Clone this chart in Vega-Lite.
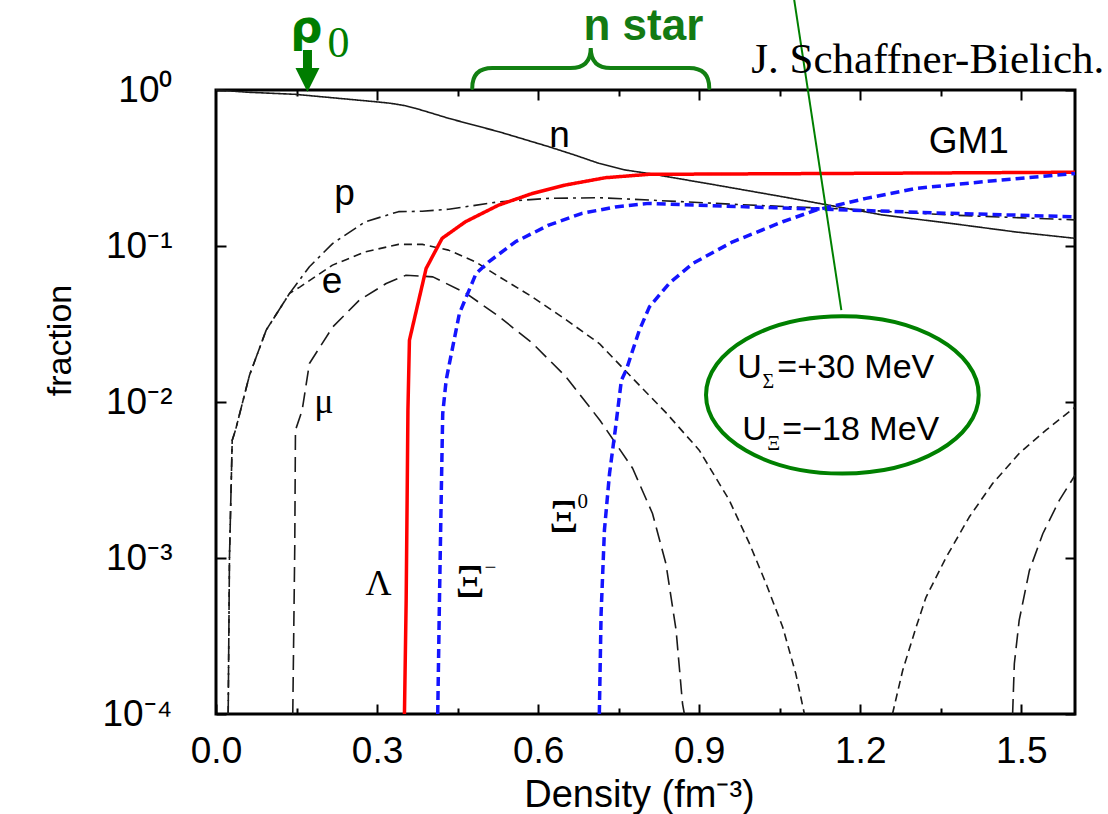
{
  "$schema": "https://vega.github.io/schema/vega-lite/v6.json",
  "width": 859,
  "height": 624,
  "autosize": {"type": "none"},
  "padding": {"left": 216, "top": 90, "right": 33, "bottom": 100},
  "background": "white",
  "config": {
    "view": {"stroke": "black", "strokeWidth": 3},
    "axis": {
      "domain": false, "grid": false, "tickColor": "black", "tickWidth": 2,
      "labelColor": "black", "labelFont": "Liberation Sans", "labelFontSize": 37,
      "titleFont": "Liberation Sans", "titleFontSize": 37, "titleFontWeight": "normal", "titleColor": "black"
    },
    "text": {"color": "black"}
  },
  "resolve": {"axis": {"x": "independent", "y": "independent"}},
  "datasets": {
    "curves": [
      {"c": "n", "x": 0, "y": 1.0}, {"c": "n", "x": 0.0605, "y": 0.967}, {"c": "n", "x": 0.148, "y": 0.938},
      {"c": "n", "x": 0.297, "y": 0.841}, {"c": "n", "x": 0.325, "y": 0.822}, {"c": "n", "x": 0.353, "y": 0.793},
      {"c": "n", "x": 0.3715, "y": 0.763}, {"c": "n", "x": 0.4026, "y": 0.709}, {"c": "n", "x": 0.4335, "y": 0.658},
      {"c": "n", "x": 0.48, "y": 0.596}, {"c": "n", "x": 0.527, "y": 0.54}, {"c": "n", "x": 0.62, "y": 0.433},
      {"c": "n", "x": 0.667, "y": 0.384}, {"c": "n", "x": 0.713, "y": 0.339}, {"c": "n", "x": 0.7626, "y": 0.307},
      {"c": "n", "x": 0.807, "y": 0.2913}, {"c": "n", "x": 0.931, "y": 0.246},
      {"c": "n", "x": 1.055, "y": 0.207}, {"c": "n", "x": 1.242, "y": 0.158}, {"c": "n", "x": 1.366, "y": 0.14},
      {"c": "n", "x": 1.49, "y": 0.123}, {"c": "n", "x": 1.6, "y": 0.112},

      {"c": "p", "x": 0.0227, "y": 0.0001}, {"c": "p", "x": 0.0251, "y": 0.00101}, {"c": "p", "x": 0.0302, "y": 0.00569},
      {"c": "p", "x": 0.0363, "y": 0.0066}, {"c": "p", "x": 0.0624, "y": 0.01485}, {"c": "p", "x": 0.0935, "y": 0.0289},
      {"c": "p", "x": 0.137, "y": 0.0497}, {"c": "p", "x": 0.174, "y": 0.0736}, {"c": "p", "x": 0.2175, "y": 0.104},
      {"c": "p", "x": 0.278, "y": 0.143}, {"c": "p", "x": 0.34, "y": 0.166}, {"c": "p", "x": 0.384, "y": 0.167},
      {"c": "p", "x": 0.4335, "y": 0.172}, {"c": "p", "x": 0.527, "y": 0.192}, {"c": "p", "x": 0.62, "y": 0.202},
      {"c": "p", "x": 0.713, "y": 0.204}, {"c": "p", "x": 0.807, "y": 0.197}, {"c": "p", "x": 0.9935, "y": 0.183},
      {"c": "p", "x": 1.18, "y": 0.172}, {"c": "p", "x": 1.366, "y": 0.158}, {"c": "p", "x": 1.6, "y": 0.147},

      {"c": "e", "x": 0.0227, "y": 0.0001}, {"c": "e", "x": 0.0251, "y": 0.00101}, {"c": "e", "x": 0.0302, "y": 0.00569},
      {"c": "e", "x": 0.0363, "y": 0.0066}, {"c": "e", "x": 0.0624, "y": 0.01485}, {"c": "e", "x": 0.0935, "y": 0.0289},
      {"c": "e", "x": 0.137, "y": 0.0497}, {"c": "e", "x": 0.156, "y": 0.0545}, {"c": "e", "x": 0.217, "y": 0.0754},
      {"c": "e", "x": 0.2784, "y": 0.0918}, {"c": "e", "x": 0.34, "y": 0.1024}, {"c": "e", "x": 0.3845, "y": 0.1024},
      {"c": "e", "x": 0.433, "y": 0.0941}, {"c": "e", "x": 0.483, "y": 0.0792}, {"c": "e", "x": 0.528, "y": 0.0634},
      {"c": "e", "x": 0.589, "y": 0.0472}, {"c": "e", "x": 0.653, "y": 0.0335}, {"c": "e", "x": 0.714, "y": 0.0237},
      {"c": "e", "x": 0.776, "y": 0.0142}, {"c": "e", "x": 0.839, "y": 0.00848}, {"c": "e", "x": 0.9, "y": 0.00491},
      {"c": "e", "x": 0.956, "y": 0.00235}, {"c": "e", "x": 0.9935, "y": 0.00124}, {"c": "e", "x": 1.0246, "y": 0.000685},
      {"c": "e", "x": 1.0555, "y": 0.000361}, {"c": "e", "x": 1.08, "y": 0.000181}, {"c": "e", "x": 1.096, "y": 0.0001},

      {"c": "mu", "x": 0.143, "y": 0.0001}, {"c": "mu", "x": 0.1467, "y": 0.00118}, {"c": "mu", "x": 0.148, "y": 0.0066},
      {"c": "mu", "x": 0.1605, "y": 0.00886}, {"c": "mu", "x": 0.174, "y": 0.01766}, {"c": "mu", "x": 0.2175, "y": 0.0303},
      {"c": "mu", "x": 0.267, "y": 0.045}, {"c": "mu", "x": 0.317, "y": 0.0575}, {"c": "mu", "x": 0.354, "y": 0.065},
      {"c": "mu", "x": 0.404, "y": 0.0634}, {"c": "mu", "x": 0.466, "y": 0.0497}, {"c": "mu", "x": 0.528, "y": 0.0351},
      {"c": "mu", "x": 0.59, "y": 0.0237}, {"c": "mu", "x": 0.652, "y": 0.01449}, {"c": "mu", "x": 0.715, "y": 0.00764},
      {"c": "mu", "x": 0.776, "y": 0.00376}, {"c": "mu", "x": 0.813, "y": 0.00193}, {"c": "mu", "x": 0.838, "y": 0.00092},
      {"c": "mu", "x": 0.857, "y": 0.000344}, {"c": "mu", "x": 0.869, "y": 0.000116}, {"c": "mu", "x": 0.8724, "y": 0.0001},

      {"c": "e_hi", "x": 1.26, "y": 0.0001}, {"c": "e_hi", "x": 1.279, "y": 0.00019}, {"c": "e_hi", "x": 1.304, "y": 0.00036},
      {"c": "e_hi", "x": 1.3225, "y": 0.00056}, {"c": "e_hi", "x": 1.36, "y": 0.00101}, {"c": "e_hi", "x": 1.403, "y": 0.00183},
      {"c": "e_hi", "x": 1.4465, "y": 0.003}, {"c": "e_hi", "x": 1.496, "y": 0.00468}, {"c": "e_hi", "x": 1.546, "y": 0.0066},
      {"c": "e_hi", "x": 1.6, "y": 0.00926},

      {"c": "mu_hi", "x": 1.4838, "y": 0.0001}, {"c": "mu_hi", "x": 1.487, "y": 0.00021}, {"c": "mu_hi", "x": 1.496, "y": 0.000398},
      {"c": "mu_hi", "x": 1.515, "y": 0.00083}, {"c": "mu_hi", "x": 1.54, "y": 0.00143}, {"c": "mu_hi", "x": 1.571, "y": 0.00235},
      {"c": "mu_hi", "x": 1.6, "y": 0.00339},

      {"c": "Lambda", "x": 0.351, "y": 0.0001}, {"c": "Lambda", "x": 0.3542, "y": 0.000535}, {"c": "Lambda", "x": 0.356, "y": 0.00235},
      {"c": "Lambda", "x": 0.3575, "y": 0.00886}, {"c": "Lambda", "x": 0.3603, "y": 0.0249}, {"c": "Lambda", "x": 0.3914, "y": 0.0718},
      {"c": "Lambda", "x": 0.4212, "y": 0.112}, {"c": "Lambda", "x": 0.4646, "y": 0.143}, {"c": "Lambda", "x": 0.5266, "y": 0.183},
      {"c": "Lambda", "x": 0.589, "y": 0.217}, {"c": "Lambda", "x": 0.651, "y": 0.246}, {"c": "Lambda", "x": 0.7253, "y": 0.274},
      {"c": "Lambda", "x": 0.806, "y": 0.288}, {"c": "Lambda", "x": 1.18, "y": 0.292}, {"c": "Lambda", "x": 1.6, "y": 0.297},

      {"c": "Xi-", "x": 0.413, "y": 0.0001}, {"c": "Xi-", "x": 0.4162, "y": 0.000535}, {"c": "Xi-", "x": 0.4194, "y": 0.00235},
      {"c": "Xi-", "x": 0.4223, "y": 0.00844}, {"c": "Xi-", "x": 0.4287, "y": 0.0138}, {"c": "Xi-", "x": 0.4348, "y": 0.01766},
      {"c": "Xi-", "x": 0.4534, "y": 0.037}, {"c": "Xi-", "x": 0.4845, "y": 0.0667}, {"c": "Xi-", "x": 0.508, "y": 0.0792},
      {"c": "Xi-", "x": 0.5577, "y": 0.1064}, {"c": "Xi-", "x": 0.6197, "y": 0.136}, {"c": "Xi-", "x": 0.682, "y": 0.162},
      {"c": "Xi-", "x": 0.744, "y": 0.178}, {"c": "Xi-", "x": 0.806, "y": 0.1876}, {"c": "Xi-", "x": 0.9935, "y": 0.178},
      {"c": "Xi-", "x": 1.18, "y": 0.17}, {"c": "Xi-", "x": 1.366, "y": 0.162}, {"c": "Xi-", "x": 1.6, "y": 0.154},

      {"c": "Xi0", "x": 0.714, "y": 0.0001}, {"c": "Xi0", "x": 0.7173, "y": 0.00044}, {"c": "Xi0", "x": 0.7235, "y": 0.00151},
      {"c": "Xi0", "x": 0.733, "y": 0.00348}, {"c": "Xi0", "x": 0.7436, "y": 0.0066}, {"c": "Xi0", "x": 0.7551, "y": 0.0138},
      {"c": "Xi0", "x": 0.764, "y": 0.016}, {"c": "Xi0", "x": 0.7886, "y": 0.0289}, {"c": "Xi0", "x": 0.8073, "y": 0.0407},
      {"c": "Xi0", "x": 0.8445, "y": 0.0578}, {"c": "Xi0", "x": 0.888, "y": 0.0773}, {"c": "Xi0", "x": 0.9624, "y": 0.1064},
      {"c": "Xi0", "x": 1.0555, "y": 0.143}, {"c": "Xi0", "x": 1.1177, "y": 0.17}, {"c": "Xi0", "x": 1.2108, "y": 0.202},
      {"c": "Xi0", "x": 1.304, "y": 0.234}, {"c": "Xi0", "x": 1.428, "y": 0.258}, {"c": "Xi0", "x": 1.6, "y": 0.292}
    ],
    "notes": [
      {"role": "label", "t": "n", "x": 0.6397, "y": 0.4309},
      {"role": "label", "t": "GM1", "x": 1.4022, "y": 0.3944},
      {"role": "label", "t": "p", "x": 0.2393, "y": 0.1829},
      {"role": "label", "t": "e", "x": 0.216, "y": 0.04985},
      {"role": "greek", "t": "μ", "x": 0.2011, "y": 0.008476},
      {"role": "greek", "t": "Λ", "x": 0.3026, "y": 0.0005764},
      {"role": "xi", "t": "Ξ", "x": 0.473, "y": 0.0005596},
      {"role": "xi", "t": "Ξ", "x": 0.648, "y": 0.001462},
      {"role": "sup", "t": "−", "x": 0.5, "y": 0.000786},
      {"role": "sup", "t": "0", "x": 0.6732, "y": 0.002084},
      {"role": "pot", "t": "U", "x": 0.9711, "y": 0.01421},
      {"role": "pot", "t": "=+30 MeV", "x": 1.0456, "y": 0.01421},
      {"role": "pot", "t": "U", "x": 0.9804, "y": 0.005689},
      {"role": "pot", "t": "=−18 MeV", "x": 1.0549, "y": 0.005689},
      {"role": "sub", "t": "Σ", "x": 1.0177, "y": 0.01226},
      {"role": "sub", "t": "Ξ", "x": 1.027, "y": 0.004907},
      {"role": "nstar", "t": "n star", "x": 0.7961, "y": 2.093},
      {"role": "rho", "t": "ρ", "x": 0.1685, "y": 2.032},
      {"role": "rho0", "t": "0", "x": 0.2281, "y": 1.628},
      {"role": "credit", "t": "J. Schaffner-Bielich.", "x": 0.9972, "y": 1.285}
    ],
    "shapes": [
      {"role": "arrow", "x": 0.1704, "y": 1.324},
      {"role": "brace", "x": 0.698, "y": 1.384},
      {"role": "ellipse", "x": 1.1667, "y": 0.0111}
    ],
    "pointer": [
      {"x": 1.077, "y": 3.778, "x2": 1.1648, "y2": 0.0388}
    ]
  },
  "layer": [
    {
      "data": {"name": "curves"},
      "mark": {"type": "line", "strokeJoin": "round"},
      "encoding": {
        "x": {
          "field": "x", "type": "quantitative",
          "scale": {"domain": [0, 1.6], "nice": false, "zero": false},
          "axis": {
            "orient": "bottom", "values": [0, 0.3, 0.6, 0.9, 1.2, 1.5], "format": ".1f",
            "tickSize": -10, "labelPadding": 58, "labelBaseline": "alphabetic",
            "labelFlush": false, "labelOverlap": false,
            "title": "Density (fm⁻³)", "titleX": 423, "titleY": 92, "titleBaseline": "alphabetic", "titleFontSize": 38
          }
        },
        "y": {
          "field": "y", "type": "quantitative",
          "scale": {"type": "log", "domain": [0.0001, 1], "nice": false},
          "axis": {
            "orient": "left", "values": [1, 0.1, 0.01, 0.001, 0.0001],
            "labelExpr": "datum.value > 0.5 ? '10⁰' : datum.value > 0.05 ? '10⁻¹' : datum.value > 0.005 ? '10⁻²' : datum.value > 0.0005 ? '10⁻³' : '10⁻⁴'",
            "tickSize": -10, "labelPadding": 54, "labelFlush": false, "labelOverlap": false,
            "title": "fraction", "titleX": -146, "titleY": 250, "titleBaseline": "alphabetic", "titleFontSize": 34
          }
        },
        "detail": {"field": "c", "type": "nominal"},
        "color": {
          "field": "c", "type": "nominal", "legend": null,
          "scale": {
            "domain": ["n", "p", "e", "mu", "e_hi", "mu_hi", "Lambda", "Xi-", "Xi0"],
            "range": ["#1a1a1a", "#1a1a1a", "#1a1a1a", "#1a1a1a", "#1a1a1a", "#1a1a1a", "#ff0000", "#1414ff", "#1414ff"]
          }
        },
        "strokeDash": {
          "field": "c", "type": "nominal", "legend": null,
          "scale": {
            "domain": ["n", "p", "e", "mu", "e_hi", "mu_hi", "Lambda", "Xi-", "Xi0"],
            "range": [[1, 0], [14, 5, 3, 5], [8, 5], [15, 7], [8, 5], [15, 7], [1, 0], [9, 5], [9, 5]]
          }
        },
        "strokeWidth": {
          "field": "c", "type": "nominal", "legend": null,
          "scale": {
            "type": "ordinal",
            "domain": ["n", "p", "e", "mu", "e_hi", "mu_hi", "Lambda", "Xi-", "Xi0"],
            "range": [1.6, 1.6, 1.6, 1.6, 1.6, 1.6, 3.5, 3.5, 3.5]
          }
        }
      }
    },
    {
      "data": {"name": "shapes"},
      "transform": [{"filter": "datum.role == 'arrow'"}],
      "mark": {
        "type": "point", "filled": true, "color": "#007d00", "opacity": 1, "strokeWidth": 0, "size": 1764,
        "shape": "M -0.214 -1 L 0.214 -1 L 0.214 -0.143 L 0.571 -0.143 L 0 1 L -0.571 -0.143 L -0.214 -0.143 Z"
      },
      "encoding": {
        "x": {
          "field": "x", "type": "quantitative",
          "scale": {"domain": [0, 1.6], "nice": false, "zero": false},
          "axis": {
            "orient": "top", "values": [0.15, 0.3, 0.45, 0.6, 0.75, 0.9, 1.05, 1.2, 1.35, 1.5],
            "labels": false, "title": null,
            "tickSize": {"condition": {"test": "abs(datum.value / 0.3 - round(datum.value / 0.3)) < 0.01", "value": -10}, "value": -6}
          }
        },
        "y": {
          "field": "y", "type": "quantitative",
          "scale": {"type": "log", "domain": [0.0001, 1], "nice": false},
          "axis": {"orient": "right", "values": [1, 0.1, 0.01, 0.001, 0.0001], "labels": false, "title": null, "tickSize": -10}
        }
      }
    },
    {
      "data": {"name": "shapes"},
      "transform": [{"filter": "datum.role == 'brace'"}],
      "mark": {
        "type": "point", "filled": false, "stroke": "#128012", "strokeWidth": 4, "opacity": 1, "size": 56169,
        "strokeCap": "round",
        "shape": "M -1 0.169 Q -1 0 -0.83 0 L -0.17 0 Q 0 0 0 -0.169 Q 0 0 0.17 0 L 0.83 0 Q 1 0 1 0.169"
      },
      "encoding": {
        "x": {
          "field": "x", "type": "quantitative",
          "scale": {"domain": [0, 1.6], "nice": false, "zero": false},
          "axis": {"orient": "bottom", "values": [0.15, 0.45, 0.75, 1.05, 1.35], "labels": false, "title": null, "tickSize": -6}
        },
        "y": {"field": "y", "type": "quantitative", "scale": {"type": "log", "domain": [0.0001, 1], "nice": false}, "axis": null}
      }
    },
    {
      "data": {"name": "shapes"},
      "transform": [{"filter": "datum.role == 'ellipse'"}],
      "mark": {
        "type": "point", "filled": false, "stroke": "#008000", "strokeWidth": 4, "opacity": 1, "size": 74365,
        "shape": "M -1 0 A 1 0.577 0 1 1 1 0 A 1 0.577 0 1 1 -1 0 Z"
      },
      "encoding": {
        "x": {"field": "x", "type": "quantitative", "scale": {"domain": [0, 1.6], "nice": false, "zero": false}, "axis": null},
        "y": {"field": "y", "type": "quantitative", "scale": {"type": "log", "domain": [0.0001, 1], "nice": false}, "axis": null}
      }
    },
    {
      "data": {"name": "pointer"},
      "mark": {"type": "rule", "color": "#008000", "strokeWidth": 2},
      "encoding": {
        "x": {"field": "x", "type": "quantitative", "scale": {"domain": [0, 1.6], "nice": false, "zero": false}, "axis": null},
        "y": {"field": "y", "type": "quantitative", "scale": {"type": "log", "domain": [0.0001, 1], "nice": false}, "axis": null},
        "x2": {"field": "x2"},
        "y2": {"field": "y2"}
      }
    },
    {
      "data": {"name": "notes"},
      "transform": [{"filter": "datum.role == 'label'"}],
      "mark": {"type": "text", "font": "Liberation Sans", "fontSize": 37, "align": "center", "baseline": "alphabetic"},
      "encoding": {
        "x": {"field": "x", "type": "quantitative", "scale": {"domain": [0, 1.6], "nice": false, "zero": false}, "axis": null},
        "y": {"field": "y", "type": "quantitative", "scale": {"type": "log", "domain": [0.0001, 1], "nice": false}, "axis": null},
        "text": {"field": "t"}
      }
    },
    {
      "data": {"name": "notes"},
      "transform": [{"filter": "datum.role == 'greek'"}],
      "mark": {"type": "text", "font": "Liberation Serif", "fontSize": 36, "align": "center", "baseline": "alphabetic"},
      "encoding": {
        "x": {"field": "x", "type": "quantitative", "scale": {"domain": [0, 1.6], "nice": false, "zero": false}, "axis": null},
        "y": {"field": "y", "type": "quantitative", "scale": {"type": "log", "domain": [0.0001, 1], "nice": false}, "axis": null},
        "text": {"field": "t"}
      }
    },
    {
      "data": {"name": "notes"},
      "transform": [{"filter": "datum.role == 'xi'"}],
      "mark": {"type": "text", "font": "Liberation Serif", "fontSize": 46, "align": "center", "baseline": "alphabetic"},
      "encoding": {
        "x": {"field": "x", "type": "quantitative", "scale": {"domain": [0, 1.6], "nice": false, "zero": false}, "axis": null},
        "y": {"field": "y", "type": "quantitative", "scale": {"type": "log", "domain": [0.0001, 1], "nice": false}, "axis": null},
        "text": {"field": "t"}
      }
    },
    {
      "data": {"name": "notes"},
      "transform": [{"filter": "datum.role == 'sup'"}],
      "mark": {"type": "text", "font": "Liberation Serif", "fontSize": 21, "align": "left", "baseline": "alphabetic"},
      "encoding": {
        "x": {"field": "x", "type": "quantitative", "scale": {"domain": [0, 1.6], "nice": false, "zero": false}, "axis": null},
        "y": {"field": "y", "type": "quantitative", "scale": {"type": "log", "domain": [0.0001, 1], "nice": false}, "axis": null},
        "text": {"field": "t"}
      }
    },
    {
      "data": {"name": "notes"},
      "transform": [{"filter": "datum.role == 'pot'"}],
      "mark": {"type": "text", "font": "Liberation Sans", "fontSize": 34, "align": "left", "baseline": "alphabetic"},
      "encoding": {
        "x": {"field": "x", "type": "quantitative", "scale": {"domain": [0, 1.6], "nice": false, "zero": false}, "axis": null},
        "y": {"field": "y", "type": "quantitative", "scale": {"type": "log", "domain": [0.0001, 1], "nice": false}, "axis": null},
        "text": {"field": "t"}
      }
    },
    {
      "data": {"name": "notes"},
      "transform": [{"filter": "datum.role == 'sub'"}],
      "mark": {"type": "text", "font": "Liberation Serif", "fontSize": 20, "align": "left", "baseline": "alphabetic"},
      "encoding": {
        "x": {"field": "x", "type": "quantitative", "scale": {"domain": [0, 1.6], "nice": false, "zero": false}, "axis": null},
        "y": {"field": "y", "type": "quantitative", "scale": {"type": "log", "domain": [0.0001, 1], "nice": false}, "axis": null},
        "text": {"field": "t"}
      }
    },
    {
      "data": {"name": "notes"},
      "transform": [{"filter": "datum.role == 'nstar'"}],
      "mark": {"type": "text", "font": "Liberation Sans", "fontSize": 44, "fontWeight": "bold", "color": "#137a13", "align": "center", "baseline": "alphabetic"},
      "encoding": {
        "x": {"field": "x", "type": "quantitative", "scale": {"domain": [0, 1.6], "nice": false, "zero": false}, "axis": null},
        "y": {"field": "y", "type": "quantitative", "scale": {"type": "log", "domain": [0.0001, 1], "nice": false}, "axis": null},
        "text": {"field": "t"}
      }
    },
    {
      "data": {"name": "notes"},
      "transform": [{"filter": "datum.role == 'rho'"}],
      "mark": {"type": "text", "font": "DejaVu Sans", "fontSize": 45, "fontWeight": "bold", "color": "#007d00", "align": "center", "baseline": "alphabetic"},
      "encoding": {
        "x": {"field": "x", "type": "quantitative", "scale": {"domain": [0, 1.6], "nice": false, "zero": false}, "axis": null},
        "y": {"field": "y", "type": "quantitative", "scale": {"type": "log", "domain": [0.0001, 1], "nice": false}, "axis": null},
        "text": {"field": "t"}
      }
    },
    {
      "data": {"name": "notes"},
      "transform": [{"filter": "datum.role == 'rho0'"}],
      "mark": {"type": "text", "font": "Liberation Serif", "fontSize": 44, "color": "#007d00", "align": "center", "baseline": "alphabetic"},
      "encoding": {
        "x": {"field": "x", "type": "quantitative", "scale": {"domain": [0, 1.6], "nice": false, "zero": false}, "axis": null},
        "y": {"field": "y", "type": "quantitative", "scale": {"type": "log", "domain": [0.0001, 1], "nice": false}, "axis": null},
        "text": {"field": "t"}
      }
    },
    {
      "data": {"name": "notes"},
      "transform": [{"filter": "datum.role == 'credit'"}],
      "mark": {"type": "text", "font": "Liberation Serif", "fontSize": 43, "align": "left", "baseline": "alphabetic"},
      "encoding": {
        "x": {"field": "x", "type": "quantitative", "scale": {"domain": [0, 1.6], "nice": false, "zero": false}, "axis": null},
        "y": {"field": "y", "type": "quantitative", "scale": {"type": "log", "domain": [0.0001, 1], "nice": false}, "axis": null},
        "text": {"field": "t"}
      }
    }
  ]
}
